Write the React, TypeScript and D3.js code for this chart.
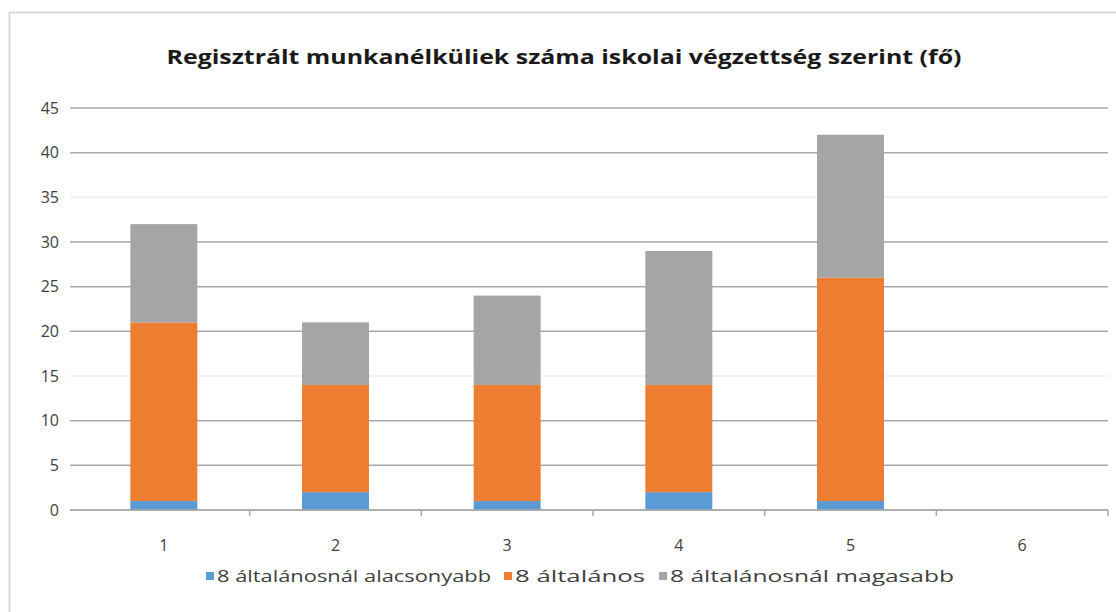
import React from "react";
import * as d3 from "d3";

const categories = ["1", "2", "3", "4", "5", "6"];
const seriesNames = ["8 általánosnál alacsonyabb", "8 általános", "8 általánosnál magasabb"];
const lowerValues = [1, 2, 1, 2, 1, 0];
const primaryValues = [20, 12, 13, 12, 25, 0];
const higherValues = [11, 7, 10, 15, 16, 0];
const seriesColors = ["#5b9bd5", "#ed7d31", "#a5a5a5"];
const yTicks = [0, 5, 10, 15, 20, 25, 30, 35, 40, 45];
const fadedGrid = [15, 35];
const title = "Regisztrált munkanélküliek száma iskolai végzettség szerint (fő)";

const W = 1116;
const H = 612;
const plot = { left: 78, right: 1108, top: 108, bottom: 510 };
const FONT = "'Open Sans', 'Noto Sans', sans-serif";

export default function App() {
  const xb = d3.scaleBand<string>().domain(categories).range([plot.left, plot.right]);
  const y = d3.scaleLinear().domain([0, 45]).range([plot.bottom, plot.top]);

  const rows = categories.map((c, i) => ({
    cat: c,
    lower: lowerValues[i],
    primary: primaryValues[i],
    higher: higherValues[i],
  }));
  const keys = ["lower", "primary", "higher"];
  const stacked = d3.stack<any>().keys(keys)(rows);

  const barW = xb.bandwidth() * 0.39;

  const legendItems = [
    { sx: 206, tx: 217, len: 274 },
    { sx: 504, tx: 515, len: 130 },
    { sx: 659, tx: 670, len: 284 },
  ];

  return (
    <svg width={W} height={H} style={{ position: "absolute", left: 0, top: 0, background: "#fff" }} fontFamily={FONT}>
      <rect x={0} y={0} width={W} height={H} fill="#ffffff" />
      <rect x={9.5} y={12.5} width={W + 20} height={H + 20} fill="#fff" stroke="#d9d9d9" strokeWidth={2} />
      <text x={564} y={64} textAnchor="middle" fontSize={20} fontWeight="bold" fill="#1a1a1a"
        textLength={795} lengthAdjust="spacingAndGlyphs">{title}</text>

      {yTicks.map((t) => (
        <g key={t}>
          <line x1={plot.left - 8} x2={plot.right} y1={y(t)} y2={y(t)}
            stroke={fadedGrid.includes(t) ? "#eeeeee" : "#a9a9a9"} strokeWidth={1.5} />
          <text x={59} y={y(t)} dy="0.36em" textAnchor="end" fontSize={16} fill="#404040">{t}</text>
        </g>
      ))}

      {stacked.map((s, si) => (
        <g key={si} fill={seriesColors[si]}>
          {s.map((d, i) => {
            const cx = (xb(categories[i]) as number) + xb.bandwidth() / 2;
            const h = y(d[0]) - y(d[1]);
            if (h <= 0) return null;
            return <rect key={i} x={cx - barW / 2} y={y(d[1])} width={barW} height={h} />;
          })}
        </g>
      ))}

      <line x1={plot.left - 8} x2={plot.right} y1={y(0)} y2={y(0)} stroke="#a9a9a9" strokeWidth={1.5} />
      {categories.map((c) => {
        const bx = (xb(c) as number) + xb.bandwidth();
        return <line key={"t" + c} x1={bx} x2={bx} y1={y(0)} y2={y(0) + 6} stroke="#a9a9a9" strokeWidth={1.5} />;
      })}
      {categories.map((c) => (
        <text key={"l" + c} x={(xb(c) as number) + xb.bandwidth() / 2} y={551} textAnchor="middle" fontSize={16} fill="#404040">{c}</text>
      ))}

      {seriesNames.map((n, i) => (
        <g key={n}>
          <rect x={legendItems[i].sx} y={572} width={8} height={8} fill={seriesColors[i]} />
          <text x={legendItems[i].tx} y={582} fontSize={16} fill="#404040"
            textLength={legendItems[i].len} lengthAdjust="spacingAndGlyphs">{n}</text>
        </g>
      ))}
    </svg>
  );
}
